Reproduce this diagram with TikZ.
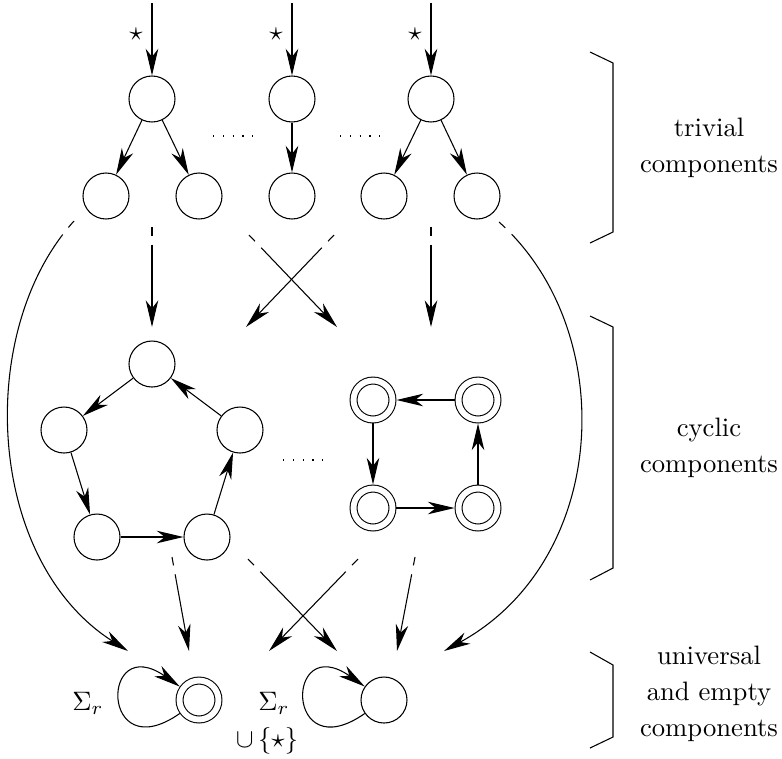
\documentclass[tikz,border=0pt]{standalone}
\usepackage{amsmath, amssymb}
\usepackage{tikz}
\usetikzlibrary{arrows.meta}
\usetikzlibrary{quotes}

\begin{document}
\begin{tikzpicture}[x=3.75pt,y=3.75pt,
    >={Stealth[length=10pt,width=4.7pt,inset=3pt]},
    state/.style={circle,draw,minimum size=17.25pt,inner sep=0pt},
    final/.style={circle,draw,double,double distance=2.2pt,minimum size=14.6pt,inner sep=0pt,outer sep=1.5pt},
    cont/.style={dash pattern=on 3.2pt off 3.4pt on 900pt},
    dotrow/.style={line width=0.5pt,dash pattern=on 0.5pt off 3.16pt},
    every edge quotes/.style={auto,font=\normalsize}]

    \useasboundingbox (0,0) rectangle (78.2,-75.8);

    % trivial components
    \node[state]         (r1) at (15.2, -9.9)       {};
    \node[state]         (r2) at (29.2, -9.9)       {};
    \node[state]         (r3) at (43.1, -9.9)       {};
    \node[state]         (r1l) at (10.6, -19.6)     {};
    \node[state]         (r1r) at (19.9, -19.6)     {};
    \node[state]         (r2c) at (29.2, -19.6)     {};
    \node[state]         (r3l) at (38.4, -19.6)     {};
    \node[state]         (r3r) at (47.7, -19.6)     {};

    \coordinate (i1) at (15.2, -0.3);
    \coordinate (i2) at (29.2, -0.3);
    \coordinate (i3) at (43.1, -0.3);

    \draw (i1) edge["$\star$"' {pos=0.43}, ->] (r1);
    \draw (i2) edge["$\star$"' {pos=0.43}, ->] (r2);
    \draw (i3) edge["$\star$"' {pos=0.43}, ->] (r3);
    \draw (r1) edge[->] (r1l);
    \draw (r1) edge[->] (r1r);
    \draw (r2) edge[->] (r2c);
    \draw (r3) edge[->] (r3l);
    \draw (r3) edge[->] (r3r);

    \draw[dotrow] (21.3, -13.6) -- (25.3, -13.6);
    \draw[dotrow] (34.0, -13.6) -- (38.0, -13.6);

    % cyclic components
    \node[state]         (p1) at (15.2, -36.4)      {};
    \node[state]         (p2) at (6.4, -43.0)       {};
    \node[state]         (p3) at (9.7, -53.7)       {};
    \node[state]         (p4) at (20.7, -53.7)      {};
    \node[state]         (p5) at (24.0, -43.0)      {};
    \node[final]         (q1) at (37.3, -40.0)      {};
    \node[final]         (q2) at (47.8, -40.0)      {};
    \node[final]         (q3) at (37.3, -50.8)      {};
    \node[final]         (q4) at (47.8, -50.8)      {};

    \draw (p1) edge[->] (p2);
    \draw (p2) edge[->] (p3);
    \draw (p3) edge[->] (p4);
    \draw (p4) edge[->] (p5);
    \draw (p5) edge[->] (p1);
    \draw (q2) edge[->] (q1);
    \draw (q1) edge[->] (q3);
    \draw (q3) edge[->] (q4);
    \draw (q4) edge[->] (q2);

    \draw[dotrow] (28.3, -46.0) -- (32.3, -46.0);

    % universal and empty components
    \node[final]         (u) at (19.9, -70.0)       {};
    \node[state]         (e) at (38.4, -70.0)       {};

    \draw (u) edge[->, out=215, in=145, looseness=9.3] (u);
    \draw (e) edge[->, out=215, in=145, looseness=9.3] (e);

    \node (sig1) at (8.8, -70.3)   {$\Sigma_r$};
    \node (sig2) at (27.4, -70.3)  {$\Sigma_r$};
    \node (sig3) at (26.7, -74.1)  {$\cup\,\{\star\}$};

    % links between the levels
    \coordinate (s1) at (7.4, -22.1);   \coordinate (f1) at (12.8, -65.1);
    \coordinate (s2) at (15.2, -22.7);  \coordinate (f2) at (15.2, -32.7);
    \coordinate (s3) at (24.9, -23.5);  \coordinate (f3) at (33.7, -32.7);
    \coordinate (s4) at (33.4, -23.5);  \coordinate (f4) at (24.6, -32.7);
    \coordinate (s5) at (43.1, -22.7);  \coordinate (f5) at (43.1, -32.7);
    \coordinate (s6) at (49.9, -22.2);  \coordinate (f6) at (44.4, -65.1);
    \coordinate (s7) at (17.2, -55.7);  \coordinate (f7) at (18.9, -65.1);
    \coordinate (s8) at (24.8, -55.9);  \coordinate (f8) at (33.7, -65.1);
    \coordinate (s9) at (35.8, -55.9);  \coordinate (f9) at (26.9, -65.1);
    \coordinate (s10) at (41.5, -55.7); \coordinate (f10) at (39.7, -65.1);

    \draw[cont,->] (s1) .. controls (-2.5, -33) and (-1.5, -56) .. (f1);
    \draw[cont,->] (s6) .. controls (62, -33) and (61, -56) .. (f6);
    \draw (s2) edge[cont, ->] (f2);
    \draw (s3) edge[cont, ->] (f3);
    \draw (s4) edge[cont, ->] (f4);
    \draw (s5) edge[cont, ->] (f5);
    \draw (s7) edge[cont, ->] (f7);
    \draw (s8) edge[cont, ->] (f8);
    \draw (s9) edge[cont, ->] (f9);
    \draw (s10) edge[cont, ->] (f10);

    % braces and their texts
    \draw (59, -5.2) -- (61.3, -6.3) -- (61.3, -23.2) -- (59, -24.3);
    \draw (59, -31.6) -- (61.3, -32.7) -- (61.3, -56.8) -- (59, -58);
    \draw (59, -65.2) -- (61.3, -66.5) -- (61.3, -73.7) -- (59, -74.8);

    \node[align=center] (triv) at (70.9, -14.8)  {trivial\\[1.5pt]components};
    \node[align=center] (cycl) at (70.9, -44.8)  {cyclic\\[1.5pt]components};
    \node[align=center] (unie) at (70.9, -69.4)  {universal\\[1.5pt]and empty\\[1.5pt]components};
  \end{tikzpicture}
\end{document}
